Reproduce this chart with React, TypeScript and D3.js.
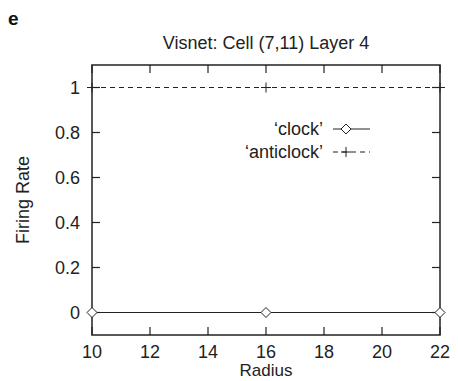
import { useEffect, useRef } from "react";
import * as d3 from "d3";

const radius = [10, 16, 22];
const clock = [0, 0, 0];
const anticlock = [1, 1, 1];
const xTicks = [10, 12, 14, 16, 18, 20, 22];
const yTicks = [0, 0.2, 0.4, 0.6, 0.8, 1];

const App = () => {
  const ref = useRef<SVGSVGElement>(null);
  const width = 458;
  const height = 381;
  const m = { left: 92, right: 18, top: 65, bottom: 46 };

  useEffect(() => {
    const svg = d3.select(ref.current);
    svg.selectAll("*").remove();
    const font = "Liberation Sans, Arial, sans-serif";
    const fs = 18;
    const x = d3.scaleLinear().domain([10, 22]).range([m.left, width - m.right]);
    const y = d3.scaleLinear().domain([-0.1, 1.1]).range([height - m.bottom, m.top]);
    const tick = 8;
    const col = "#222";

    // frame
    svg.append("rect")
      .attr("x", x(10)).attr("y", y(1.1))
      .attr("width", x(22) - x(10)).attr("height", y(-0.1) - y(1.1))
      .attr("fill", "none").attr("stroke", col).attr("stroke-width", 1.5);

    // x ticks (bottom & top, inward)
    xTicks.forEach((t) => {
      svg.append("line").attr("x1", x(t)).attr("x2", x(t))
        .attr("y1", y(-0.1)).attr("y2", y(-0.1) - tick)
        .attr("stroke", col).attr("stroke-width", 1.2);
      svg.append("line").attr("x1", x(t)).attr("x2", x(t))
        .attr("y1", y(1.1)).attr("y2", y(1.1) + tick)
        .attr("stroke", col).attr("stroke-width", 1.2);
      svg.append("text").attr("x", x(t)).attr("y", y(-0.1) + 23)
        .attr("text-anchor", "middle").attr("font-family", font)
        .attr("font-size", fs).attr("fill", col).text(t);
    });

    yTicks.forEach((t) => {
      svg.append("line").attr("x1", x(10)).attr("x2", x(10) + tick)
        .attr("y1", y(t)).attr("y2", y(t))
        .attr("stroke", col).attr("stroke-width", 1.2);
      svg.append("line").attr("x1", x(22)).attr("x2", x(22) - tick)
        .attr("y1", y(t)).attr("y2", y(t))
        .attr("stroke", col).attr("stroke-width", 1.2);
      svg.append("text").attr("x", x(10) - 12).attr("y", y(t)).attr("dy", "0.35em")
        .attr("text-anchor", "end").attr("font-family", font)
        .attr("font-size", fs).attr("fill", col).text(t);
    });

    // lines
    const line = d3.line<number>().x((d, i) => x(radius[i])).y((d) => y(d));
    svg.append("path").attr("d", line(clock)).attr("fill", "none")
      .attr("stroke", col).attr("stroke-width", 1);
    svg.append("path").attr("d", line(anticlock)).attr("fill", "none")
      .attr("stroke", col).attr("stroke-width", 1).attr("stroke-dasharray", "5,4");

    const diamond = (cx: number, cy: number) =>
      svg.append("path")
        .attr("d", `M${cx - 5},${cy}L${cx},${cy - 5}L${cx + 5},${cy}L${cx},${cy + 5}Z`)
        .attr("fill", "white").attr("stroke", col).attr("stroke-width", 1);
    const plus = (cx: number, cy: number) =>
      svg.append("path")
        .attr("d", `M${cx - 5},${cy}H${cx + 5}M${cx},${cy - 5}V${cy + 5}`)
        .attr("stroke", col).attr("stroke-width", 1);

    clock.forEach((d, i) => diamond(x(radius[i]), y(d)));
    anticlock.forEach((d, i) => plus(x(radius[i]), y(d)));

    // legend
    const lx = 323, ly1 = 129, ly2 = 152;
    svg.append("text").attr("x", lx).attr("y", ly1).attr("dy", "0.35em")
      .attr("text-anchor", "end").attr("font-family", font).attr("font-size", fs)
      .attr("fill", col).text("\u2018clock\u2019");
    svg.append("text").attr("x", lx).attr("y", ly2).attr("dy", "0.35em")
      .attr("text-anchor", "end").attr("font-family", font).attr("font-size", fs)
      .attr("fill", col).text("\u2018anticlock\u2019");
    svg.append("line").attr("x1", 333).attr("x2", 370).attr("y1", ly1).attr("y2", ly1)
      .attr("stroke", col).attr("stroke-width", 1);
    diamond(346, ly1);
    svg.append("line").attr("x1", 333).attr("x2", 370).attr("y1", ly2).attr("y2", ly2)
      .attr("stroke", col).attr("stroke-width", 1).attr("stroke-dasharray", "5,4");
    plus(346, ly2);

    // titles
    svg.append("text").attr("x", (x(10) + x(22)) / 2).attr("y", 49)
      .attr("text-anchor", "middle").attr("font-family", font).attr("font-size", fs)
      .attr("fill", col).text("Visnet: Cell (7,11) Layer 4");
    svg.append("text").attr("x", (x(10) + x(22)) / 2).attr("y", 376)
      .attr("text-anchor", "middle").attr("font-family", font).attr("font-size", 17)
      .attr("fill", col).text("Radius");
    svg.append("text")
      .attr("transform", `translate(29,${(y(-0.1) + y(1.1)) / 2}) rotate(-90)`)
      .attr("text-anchor", "middle").attr("font-family", font).attr("font-size", fs)
      .attr("fill", col).text("Firing Rate");
    svg.append("text").attr("x", 8).attr("y", 25).attr("font-family", font)
      .attr("font-size", 19).attr("font-weight", "bold").attr("fill", "#111").text("e");
  }, []);

  return (
    <svg ref={ref} width={width} height={height}
      style={{ position: "absolute", left: 0, top: 0, background: "white" }} />
  );
};

export default App;
